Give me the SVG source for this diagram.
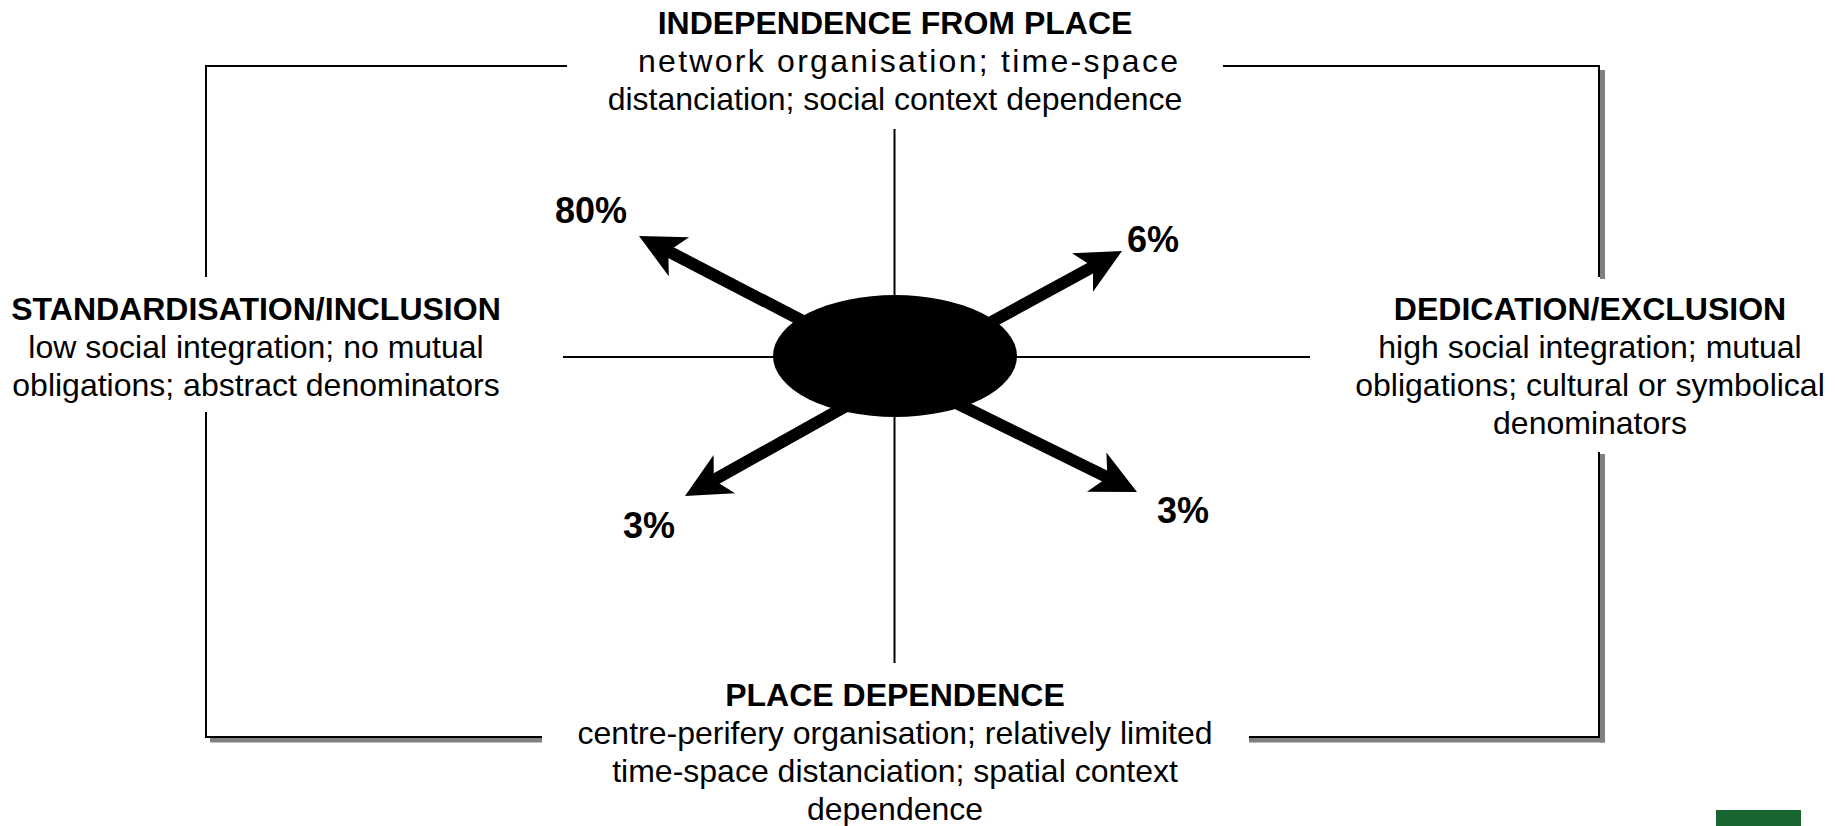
<svg xmlns="http://www.w3.org/2000/svg" width="1835" height="826" viewBox="0 0 1835 826">
  <style>
    .frame { stroke: #000; stroke-width: 2; fill: none; }
    .shadow { stroke: #808080; stroke-width: 5; fill: none; }
    .axis { stroke: #000; stroke-width: 2; fill: none; }
    .shaft { stroke: #000; stroke-width: 12; fill: none; }
    .head { fill: #000; stroke: none; }
    text { font-family: "Liberation Sans", Arial, sans-serif; fill: #000; text-anchor: middle; }
    .title { font-size: 32px; font-weight: bold; }
    .desc { font-size: 32px; }
    .pct { font-size: 36px; font-weight: bold; }
  </style>

  <!-- outer frame, with a drop shadow on the right and bottom edges -->
  <g id="frame">
    <line class="shadow" x1="1602.5" y1="70" x2="1602.5" y2="279"/>
    <line class="shadow" x1="1602.5" y1="454" x2="1602.5" y2="742.5"/>
    <line class="shadow" x1="210" y1="740" x2="542" y2="740"/>
    <line class="shadow" x1="1249" y1="740" x2="1605" y2="740"/>
    <polyline class="frame" points="206,277 206,66 567,66"/>
    <polyline class="frame" points="1223,66 1599,66 1599,277"/>
    <polyline class="frame" points="206,412 206,737 542,737"/>
    <polyline class="frame" points="1249,737 1599,737 1599,452"/>
  </g>

  <!-- axes and arrows -->
  <g id="connectors">
    <line class="axis" x1="894.5" y1="129" x2="894.5" y2="663"/>
    <line class="axis" x1="563" y1="357" x2="1310" y2="357"/>

    <line class="shaft" x1="816.6" y1="328.2" x2="665.6" y2="249.8"/>
    <path class="head" d="M639,236 L689.1,237.2 L668.3,251.2 L668.8,276.3 Z"/>

    <line class="shaft" x1="946.4" y1="346.6" x2="1095.7" y2="265.3"/>
    <path class="head" d="M1122,251 L1072,253.2 L1093,266.8 L1093,291.8 Z"/>

    <line class="shaft" x1="940" y1="395" x2="1110.1" y2="478.7"/>
    <path class="head" d="M1137,492 L1106.4,452.4 L1107.4,477.4 L1087,491.8 Z"/>

    <line class="shaft" x1="859.6" y1="398.5" x2="711.2" y2="481.4"/>
    <path class="head" d="M685,496 L735,493.3 L713.8,479.9 L713.6,454.9 Z"/>
  </g>

  <g id="centre">
    <ellipse cx="895" cy="356" rx="122" ry="61" fill="#000"/>
  </g>

  <g id="independence">
    <text class="title" x="895" y="34">INDEPENDENCE FROM PLACE</text>
    <text class="desc" x="638" y="72" style="text-anchor:start" textLength="540" lengthAdjust="spacing">network organisation; time-space</text>
    <text class="desc" x="895" y="110">distanciation; social context dependence</text>
  </g>

  <g id="standardisation">
    <text class="title" x="256" y="320">STANDARDISATION/INCLUSION</text>
    <text class="desc" x="256" y="358">low social integration; no mutual</text>
    <text class="desc" x="256" y="396">obligations; abstract denominators</text>
  </g>

  <g id="dedication">
    <text class="title" x="1590" y="320">DEDICATION/EXCLUSION</text>
    <text class="desc" x="1590" y="358">high social integration; mutual</text>
    <text class="desc" x="1590" y="396">obligations; cultural or symbolical</text>
    <text class="desc" x="1590" y="434">denominators</text>
  </g>

  <g id="place-dependence">
    <text class="title" x="895" y="706">PLACE DEPENDENCE</text>
    <text class="desc" x="895" y="744">centre-perifery organisation; relatively limited</text>
    <text class="desc" x="895" y="782">time-space distanciation; spatial context</text>
    <text class="desc" x="895" y="820">dependence</text>
  </g>

  <g id="shares">
    <text class="pct" x="591" y="223">80%</text>
    <text class="pct" x="1153" y="252">6%</text>
    <text class="pct" x="1183" y="523">3%</text>
    <text class="pct" x="649" y="538">3%</text>
  </g>

  <rect x="1716" y="810" width="85" height="16" fill="#1a6633"/>
</svg>
